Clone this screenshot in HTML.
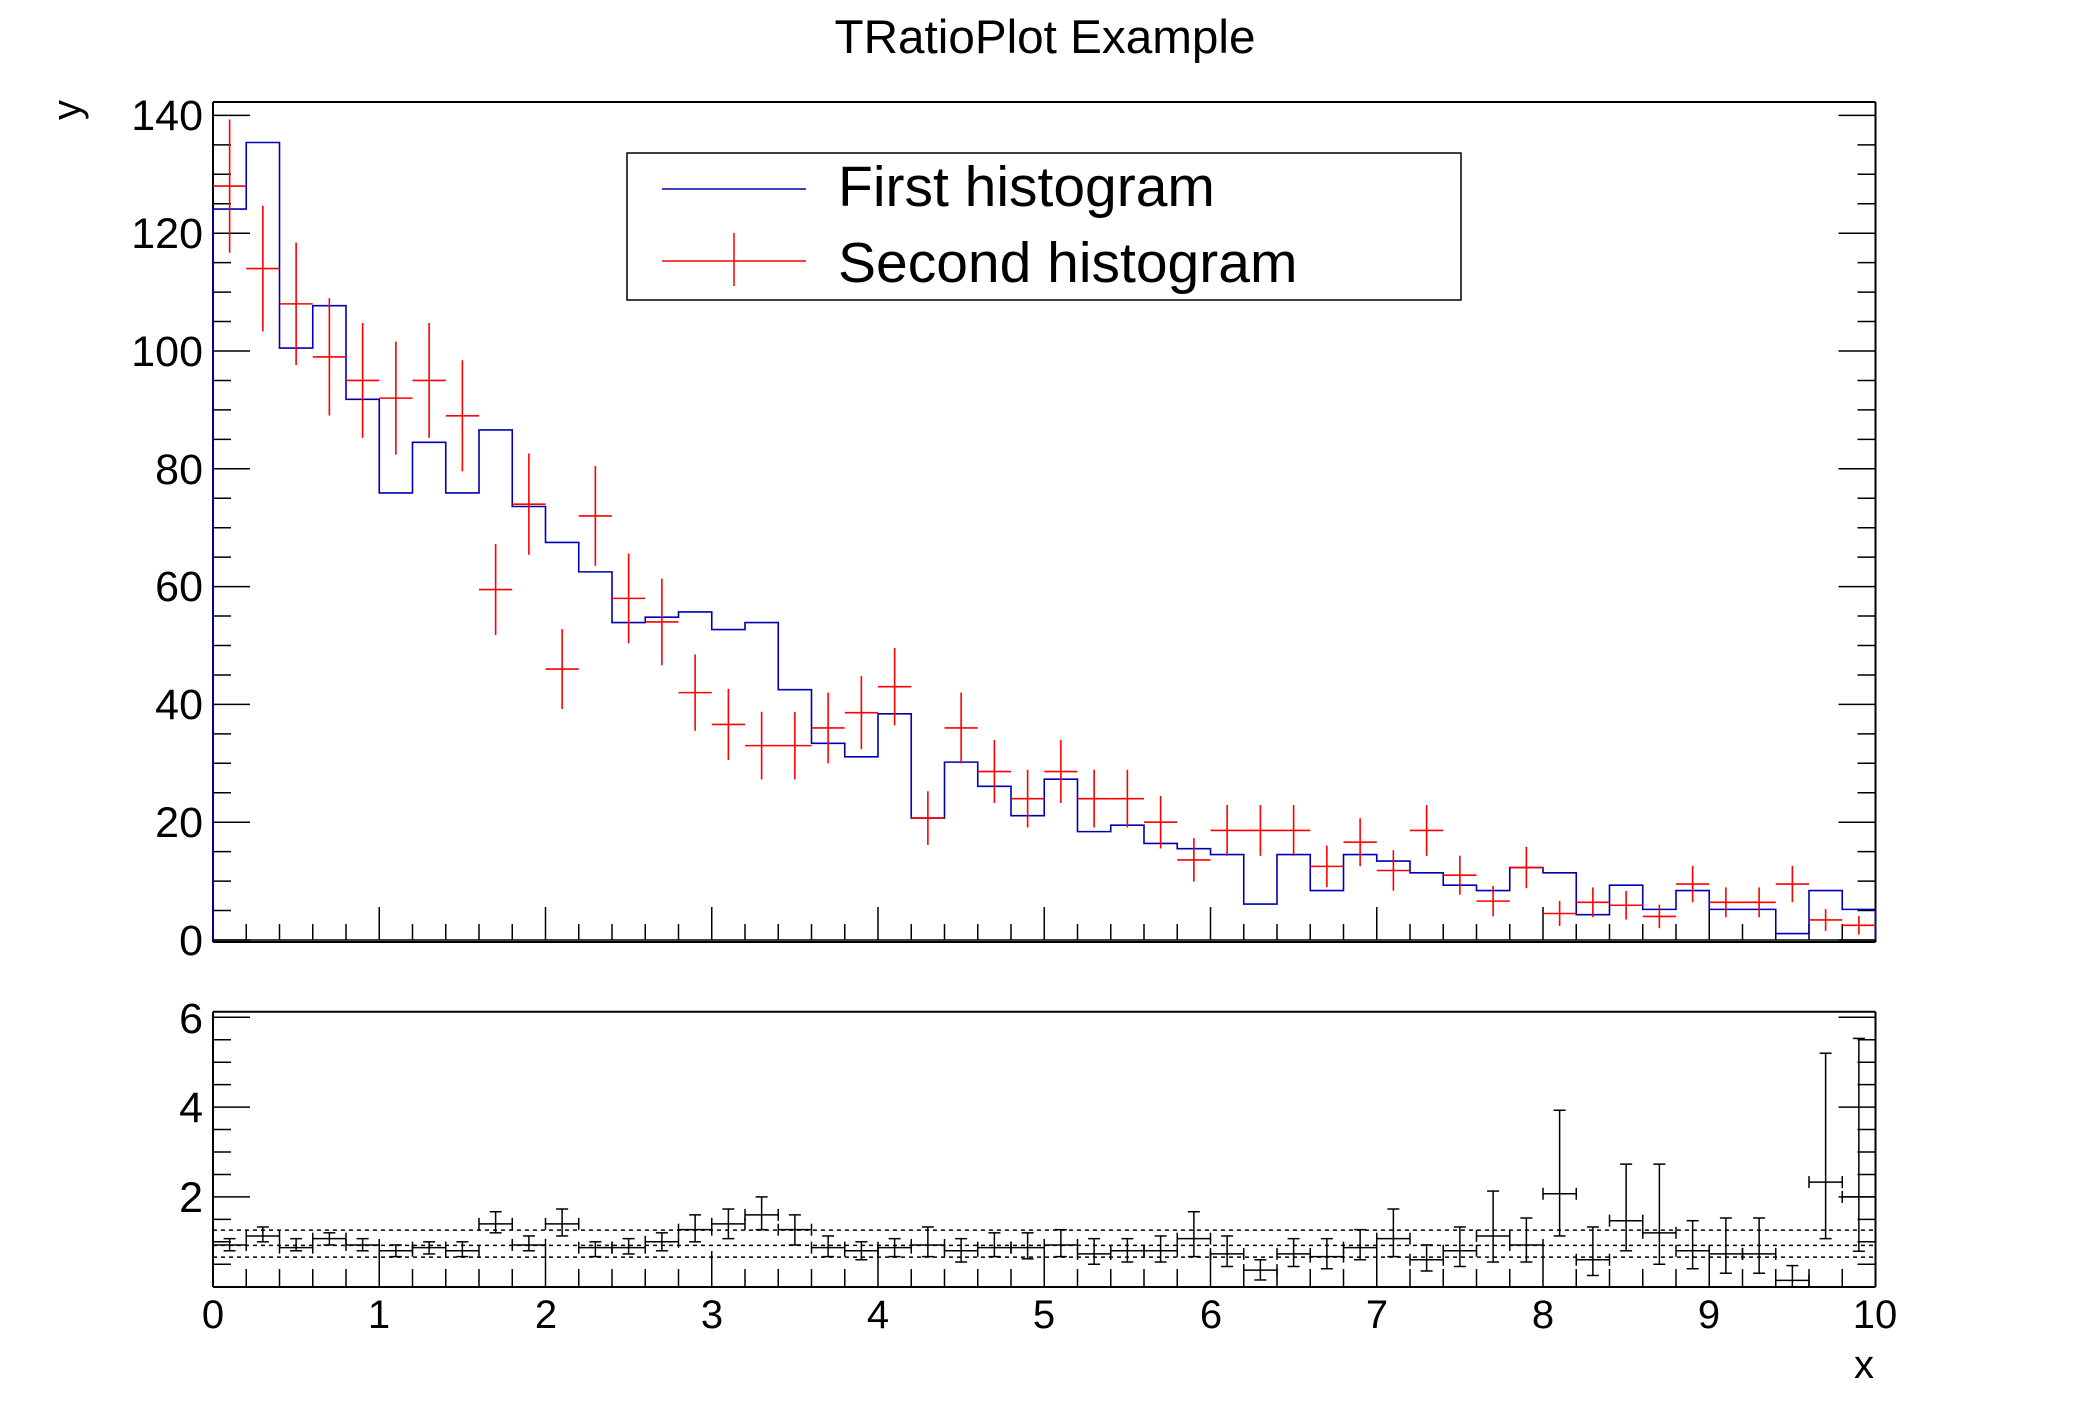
<!DOCTYPE html>
<html><head><meta charset="utf-8"><style>
html,body{margin:0;padding:0;background:#fff;}
svg{display:block;}
text{font-family:"Liberation Sans",Arial,sans-serif;fill:#000;}
</style></head><body>
<svg id="s" width="2088" height="1416" viewBox="0 0 2088 1416" xmlns="http://www.w3.org/2000/svg">
<rect width="2088" height="1416" fill="#fff"/>
<text x="1045" y="53" font-size="47" text-anchor="middle" textLength="421" lengthAdjust="spacingAndGlyphs">TRatioPlot Example</text>
<text transform="translate(80,100) rotate(-90)" font-size="40" text-anchor="end">y</text>
<g font-size="43" text-anchor="end">
<text x="203" y="955">0</text>
<text x="203" y="837">20</text>
<text x="203" y="719">40</text>
<text x="203" y="601">60</text>
<text x="203" y="484">80</text>
<text x="203" y="366">100</text>
<text x="203" y="248">120</text>
<text x="203" y="130">140</text>
</g>
<g font-size="43" text-anchor="end">
<text x="203" y="1212">2</text>
<text x="203" y="1122">4</text>
<text x="203" y="1033">6</text>
</g>
<g font-size="40" text-anchor="middle">
<text x="213" y="1328">0</text>
<text x="379" y="1328">1</text>
<text x="546" y="1328">2</text>
<text x="712" y="1328">3</text>
<text x="878" y="1328">4</text>
<text x="1044" y="1328">5</text>
<text x="1211" y="1328">6</text>
<text x="1377" y="1328">7</text>
<text x="1543" y="1328">8</text>
<text x="1709" y="1328">9</text>
<text x="1875" y="1328">10</text>
</g>
<text x="1874" y="1378" font-size="40" text-anchor="end">x</text>
<rect x="627" y="153" width="834" height="147" fill="#fff" stroke="#000" stroke-width="1.5"/>
<line x1="662" y1="189" x2="806" y2="189" stroke="#0000b0" stroke-width="1.5"/>
<line x1="662" y1="261" x2="806" y2="261" stroke="#f00" stroke-width="1.5"/>
<line x1="734" y1="233" x2="734" y2="286" stroke="#f00" stroke-width="1.5"/>
<text x="838" y="206" font-size="57">First histogram</text>
<text x="838" y="282" font-size="57">Second histogram</text>
<g id="g"></g>
</svg>
<script>
var g=document.getElementById('g');
function L(x1,y1,x2,y2,c,w,d){var e=document.createElementNS('http://www.w3.org/2000/svg','line');e.setAttribute('x1',x1);e.setAttribute('y1',y1);e.setAttribute('x2',x2);e.setAttribute('y2',y2);e.setAttribute('stroke',c||'#000');e.setAttribute('stroke-width',w||1.5);if(d)e.setAttribute('stroke-dasharray',d);g.appendChild(e);}
var X0=213,X1=1875.5,XS=166.25;
function X(x){return X0+XS*x;}
function Y(v){return 940-5.89*v;}
function R(r){return 1286.7-44.9*r;}
L(X0,102,X1,102,'#000',2);L(X0,942,X1,942,'#000',2);L(X0,102,X0,942,'#000',2);L(X1,102,X1,942,'#000',2);
L(X0,940,X1,940,'#000',1.5);
L(X0,1011.7,X1,1011.7,'#000',2);L(X0,1287,X1,1287,'#000',2);L(X0,1011.7,X0,1287,'#000',2);L(X1,1011.7,X1,1287,'#000',2);
for(var v=0;v<=142;v+=5){var l=(v%20==0)?37:18;L(X0,Y(v),X0+l,Y(v));L(X1,Y(v),X1-l,Y(v));}
for(var r=0.5;r<=6.1;r+=0.5){var l=(Math.abs(r-Math.round(r/2)*2)<0.01)?37:18;L(X0,R(r),X0+l,R(r));L(X1,R(r),X1-l,R(r));}
for(var i=0;i<=50;i++){var x=X(i*0.2);var maj=(i%5==0);L(x,940,x,940-(maj?33:16));L(x,1287,x,1287-(maj?36:18));}
[1.26,0.92,0.66].forEach(function(r){L(X0,R(r),X1,R(r),'#000',1.5,'4,4');});
var h1=[124.1,135.4,100.5,107.7,91.8,75.9,84.5,75.9,86.6,73.6,67.5,62.5,53.9,54.8,55.7,52.7,53.9,42.5,33.4,31.1,38.4,20.7,30.2,26.1,21.1,27.3,18.4,19.5,16.4,15.5,14.5,6.1,14.5,8.4,14.5,13.4,11.4,9.3,8.4,12.3,11.4,4.3,9.3,5.2,8.4,5.2,5.2,1.1,8.4,5.2];
var h2=[128,114,108,99,95,92,95,89,59.5,74,46,72,58,54,42,36.6,33,33,36,38.6,43,20.7,36,28.6,24,28.6,24,24,20,13.6,18.6,18.6,18.6,12.5,16.6,11.8,18.6,11,6.6,12.3,4.5,6.4,5.9,4,9.5,6.4,6.4,9.5,3.4,2.5];
var d='M'+X0+' '+Y(0);
for(var i=0;i<50;i++){d+=' L'+X(i*0.2)+' '+Y(h1[i])+' L'+X(i*0.2+0.2)+' '+Y(h1[i]);}
d+=' L'+X1+' '+Y(0);
var p=document.createElementNS('http://www.w3.org/2000/svg','path');p.setAttribute('d',d);p.setAttribute('fill','none');p.setAttribute('stroke','#0000b0');p.setAttribute('stroke-width','1.6');g.appendChild(p);
for(var i=0;i<50;i++){var v=h2[i],e=Math.sqrt(v);var xc=X(i*0.2+0.1);
L(X(i*0.2),Y(v),X(i*0.2+0.2),Y(v),'#f00',1.6);L(xc,Math.max(Y(v+e),103),xc,Math.min(Y(v-e),940),'#f00',1.6);}
var rat=[[.93,1.07,.8],[1.13,1.33,1.0],[.87,1.07,.8],[1.07,1.2,.93],[.93,1.07,.8],[.8,.93,.67],[.87,1.0,.73],[.8,1.0,.67],[1.4,1.67,1.2],[.93,1.13,.8],
[1.4,1.73,1.13],[.87,1.0,.67],[.87,1.07,.73],[1.0,1.2,.8],[1.27,1.6,1.0],[1.4,1.73,1.07],[1.6,2.0,1.27],[1.27,1.6,.93],[.87,1.13,.67],[.8,1.0,.6],
[.87,1.07,.67],[.93,1.33,.67],[.8,1.07,.55],[.87,1.2,.67],[.87,1.2,.62],[.93,1.27,.67],[.73,1.07,.5],[.8,1.07,.55],[.8,1.13,.55],[1.07,1.67,.67],
[.73,1.13,.45],[.37,.6,.15],[.73,1.07,.45],[.67,1.07,.4],[.87,1.27,.6],[1.07,1.73,.67],[.6,.93,.35],[.8,1.33,.45],[1.13,2.13,.55],[.93,1.53,.55],
[2.07,3.93,1.13],[.6,1.33,.25],[1.47,2.73,.8],[1.2,2.73,.5],[.8,1.47,.4],[.73,1.53,.3],[.73,1.53,.3],[.14,.47,0],[2.33,5.2,1.07],[2.0,5.53,.79]];
for(var i=0;i<50;i++){var a=rat[i],xa=X(i*0.2),xb=X(i*0.2+0.2),xc=X(i*0.2+0.1),yc=R(a[0]),yt=R(a[1]),yb=R(a[2]);
L(xa,yc,xb,yc);L(xa,yc-6,xa,yc+6);L(xb,yc-6,xb,yc+6);
L(xc,yt,xc,yb);L(xc-6,yt,xc+6,yt);L(xc-6,yb,xc+6,yb);}
</script>
</body></html>
